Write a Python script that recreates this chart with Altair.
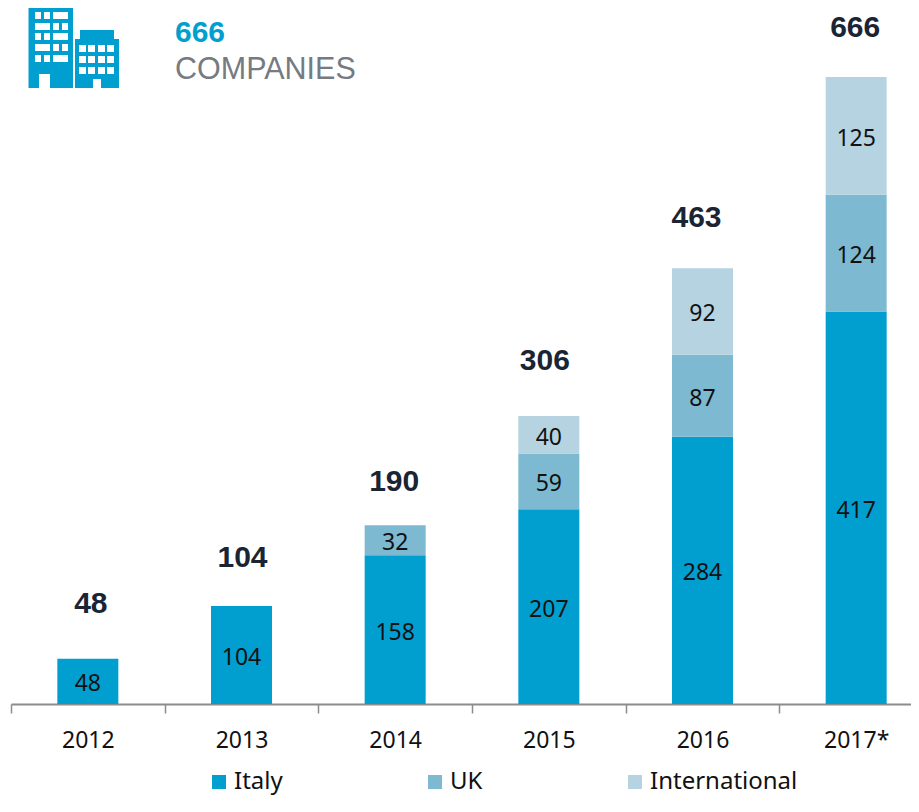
import altair as alt
import pandas as pd

years = ["2012", "2013", "2014", "2015", "2016", "2017*"]
italy = [48, 104, 158, 207, 284, 417]
uk = [None, None, 32, 59, 87, 124]
international = [None, None, None, 40, 92, 125]
totals = [48, 104, 190, 306, 463, 666]
series = ["Italy", "UK", "International"]
colors = ["#009FD0", "#7DB9D0", "#B5D3E0"]

rows = []
for name, vals in zip(series, [italy, uk, international]):
    for y, v in zip(years, vals):
        if v is not None:
            rows.append({"year": y, "series": name, "value": v, "rank": series.index(name)})
df = pd.DataFrame(rows)
df_tot = pd.DataFrame({"year": years, "total": totals})

# layout (pixels)
LEFT, TOP = 3, 0
W, H = 900, 696
ymax = H / 0.9414


def rect(x0, y0, x1, y1, hole=False):
    # holes wind the opposite way so they stay empty under the nonzero rule
    cx, cy, r = 74, 47, 45
    pts = [(x0, y0), (x1, y0), (x1, y1), (x0, y1)]
    if hole:
        pts = pts[::-1]
    out = [f"{(px - cx) / r:.4f},{(py - cy) / r:.4f}" for px, py in pts]
    return "M" + "L".join(out) + "Z"


def icon_path():
    p = [rect(28.5, 6, 73, 88), rect(75, 39, 119, 88), rect(80, 30, 114, 39)]
    for top, pat in [(12, 0), (23, 1), (33, 0), (44, 1), (55, 0)]:
        cells = [(35, 41), (44, 50), (53, 68)] if pat == 0 else [(35, 50), (53, 59), (62, 68)]
        for a, b in cells:
            p.append(rect(a, top, b, top + 7, True))
    p.append(rect(39, 74, 50, 88, True))
    for top in (45, 56, 67):
        for a in (79, 88, 98, 107):
            p.append(rect(a, top, a + 7, top + 7, True))
    p.append(rect(93, 79, 101, 88, True))
    return "".join(p)


x = alt.X(
    "year:N",
    sort=years,
    title=None,
    scale=alt.Scale(domain=years, range=[0, 922], paddingInner=0, paddingOuter=0),
    axis=alt.Axis(
        labelAngle=0,
        labelFont="Noto Sans",
        labelFontSize=23,
        labelColor="#111111",
        labelPadding=16,
        domainColor="#8C8C8C",
        domainWidth=2,
        tickColor="#8C8C8C",
        tickWidth=1.5,
        tickSize=9,
        tickBand="extent",
        grid=False,
    ),
)
y = alt.Y("value:Q", stack="zero", title=None, axis=None, scale=alt.Scale(domain=[0, ymax], nice=False))

bars = (
    alt.Chart(df)
    .mark_bar(size=61)
    .encode(
        x=x,
        y=y,
        order=alt.Order("rank:Q"),
        color=alt.Color(
            "series:N",
            sort=series,
            scale=alt.Scale(domain=series, range=colors),
            legend=alt.Legend(
                title=None,
                orient="none",
                direction="horizontal",
                columns=3,
                gridAlign="none",
                legendX=196,
                legendY=762,
                symbolType="square",
                symbolSize=196,
                symbolStrokeWidth=0,
                labelFont="Noto Sans",
                labelFontSize=24,
                labelColor="#111111",
                labelOffset=3,
                columnPadding=140,
            ),
        ),
    )
)

seg_labels = (
    alt.Chart(df)
    .mark_text(font="Noto Sans", fontSize=23, color="#111111", baseline="middle", dy=3)
    .encode(
        x=alt.X("year:N", sort=years),
        y=alt.Y("mid:Q", scale=alt.Scale(domain=[0, ymax], nice=False)),
        text="value:Q",
    )
    .transform_stack(stack="value", groupby=["year"], sort=[alt.SortField("rank")], as_=["y0", "y1"])
    .transform_calculate(mid="(datum.y0 + datum.y1) / 2")
)

# fine placement of each total above its bar, measured from the bar top
total_nudge = {"2012": (3, -55), "2013": (1, -48), "2014": (-1, -43), "2015": (-4, -55), "2016": (-6, -50), "2017*": (-1, -49)}
total_layers = []
for yr, (dx, dy) in total_nudge.items():
    total_layers.append(
        alt.Chart(df_tot[df_tot.year == yr])
        .mark_text(font="Liberation Sans", fontWeight="bold", fontSize=30, color="#1A2433", baseline="middle", dx=dx, dy=dy)
        .encode(
            x=alt.X("year:N", sort=years),
            y=alt.Y("total:Q", scale=alt.Scale(domain=[0, ymax], nice=False)),
            text="total:Q",
        )
    )

one = pd.DataFrame({"a": [1]})
icon = (
    alt.Chart(one)
    .mark_point(shape=icon_path(), filled=True, color="#009FD0", opacity=1, strokeWidth=0)
    .encode(x=alt.value(74 - 11), y=alt.value(47 - 8), size=alt.value(8100))
)
head1 = (
    alt.Chart(pd.DataFrame({"t": ["666"]}))
    .mark_text(font="Liberation Sans", fontWeight="bold", fontSize=30, color="#009FD0", align="left", baseline="middle")
    .encode(x=alt.value(175 - 11), y=alt.value(33 - 8), text="t:N")
)
head2 = (
    alt.Chart(pd.DataFrame({"t": ["COMPANIES"]}))
    .mark_text(font="Liberation Sans", fontSize=30.5, color="#767B82", align="left", baseline="middle")
    .encode(x=alt.value(175 - 11), y=alt.value(70 - 8), text="t:N")
)

chart = (
    alt.layer(bars, seg_labels, *total_layers, icon, head1, head2)
    .resolve_scale(x="shared", y="shared")
    .properties(
        width=W,
        height=H,
        autosize=alt.AutoSizeParams(type="none"),
        padding={"left": LEFT, "top": TOP, "right": 0, "bottom": 92},
        background="white",
    )
    .configure_view(stroke=None)
)

chart.save("out.html", embed_options={"renderer": "svg", "actions": False})
